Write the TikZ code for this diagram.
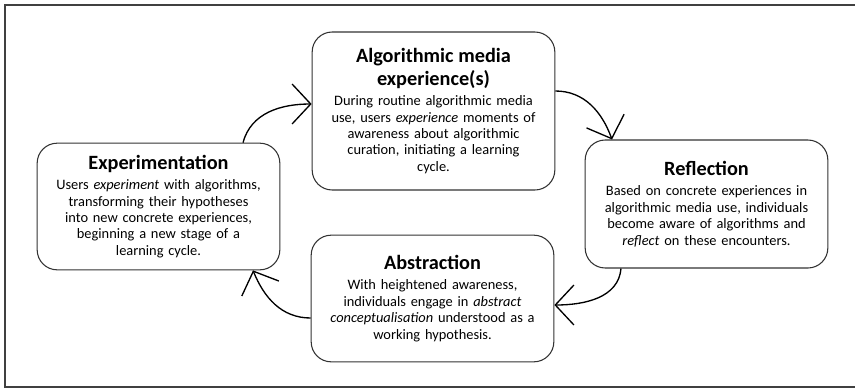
\documentclass[tikz,border=0pt]{standalone}
\usepackage{fontspec}
\setmainfont{Carlito}
\usetikzlibrary{arrows.meta, positioning, calc}

\newcommand{\stagehead}[1]{{\fontsize{15.2}{17}\selectfont\bfseries #1\par}\vspace{3pt}}

\begin{document}
\begin{tikzpicture}[x=0.75pt, y=-0.75pt,
    stage/.style={draw=black!80, line width=0.8pt, rounded corners=15pt,
        minimum width=182pt, text width=178pt, inner sep=0pt, align=center,
        font=\fontsize{10.8}{12.3}\selectfont},
    cycle/.style={line width=1pt, -{Straight Barb[length=14pt, width=30pt]}}]
    \useasboundingbox (0,0) rectangle (855,389);
    % frame
    \draw[black!75, line width=1pt] (860,5) -- (5,5) -- (5,387) -- (860,387);

    % the four stages
    \node[stage, minimum height=118.5pt] (alg) at (433.5,111) {%
        \stagehead{Algorithmic media\\experience(s)}
        During routine algorithmic media\\
        use, users \textit{experience} moments of\\
        awareness about algorithmic\\
        curation, initiating a learning\\
        cycle.};
    \node[stage, minimum height=96pt] (refl) at (706.5,204) {%
        \stagehead{Reflection}
        Based on concrete experiences in\\
        algorithmic media use, individuals\\
        become aware of algorithms and\\
        \textit{reflect} on these encounters.};
    \node[stage, minimum height=95pt] (abs) at (432.5,298.5) {%
        \stagehead{Abstraction}
        With heightened awareness,\\
        individuals engage in \textit{abstract}\\
        \textit{conceptualisation} understood as a\\
        working hypothesis.};
    \node[stage, minimum height=95pt] (exp) at (158.5,206.5) {%
        \stagehead{Experimentation}
        Users \textit{experiment} with algorithms,\\
        transforming their hypotheses\\
        into new concrete experiences,\\
        beginning a new stage of a\\
        learning cycle.};

    % learning cycle
    \draw[cycle] ($(exp.north)+(84.5,0)$) to[out=75, in=180] ($(alg.west)+(0,-7)$);
    \draw[cycle] ($(alg.east)+(0,-20)$) to[out=0, in=110] ($(refl.north)+(-94.5,0)$);
    \draw[cycle] ($(refl.south)+(-85.5,0)$) to[out=-95, in=0] ($(abs.east)+(0,6.5)$);
    \draw[cycle] ($(abs.west)+(0,19.5)$) to[out=180, in=-68] ($(exp.south)+(94.5,0)$);
\end{tikzpicture}
\end{document}
